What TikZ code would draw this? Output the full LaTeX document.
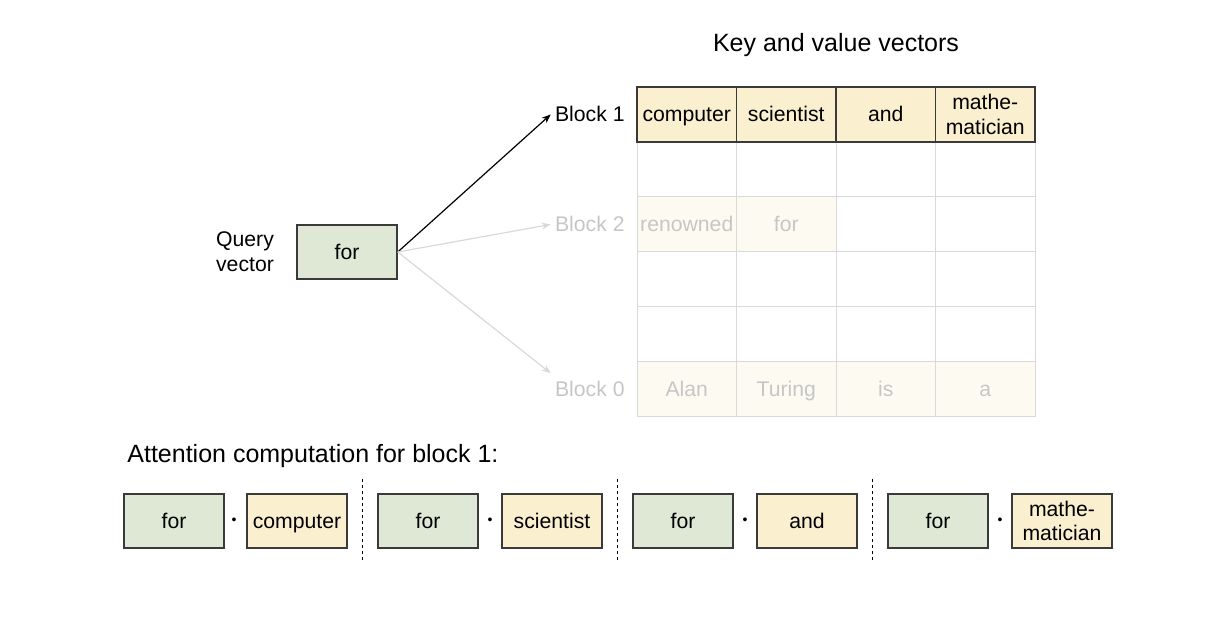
\documentclass[tikz,border=0pt]{standalone}
\usepackage{fontspec}
\setmainfont{Liberation Sans}
\usetikzlibrary{arrows.meta}

\definecolor{keyfill}{HTML}{FAEFCF}   %key/value cells, block 1
\definecolor{queryfill}{HTML}{DEE8D5} %query vector
\definecolor{fadefill}{HTML}{FDFAF2}  %cells of the other blocks
\definecolor{fadetext}{HTML}{C6C6C6}
\definecolor{gridgray}{HTML}{D9D9D9}
\definecolor{boxline}{HTML}{3A3A3A}

\begin{document}
\begin{tikzpicture}[x=0.5pt,y=0.5pt,
    every node/.style={font=\fontsize{10.6}{12.3}\selectfont},
    bigtext/.style={font=\fontsize{12.5}{15}\selectfont,inner sep=0pt},
    onebase/.style={text height=9.6pt,text depth=2.25pt},
    keytwo/.style={draw=boxline,fill=keyfill,line width=0.75pt,minimum width=49.75pt,minimum height=27.5pt,inner sep=0pt,align=center},
    keycell/.style={keytwo,onebase},
    fadecell/.style={fill=fadefill,text=fadetext,minimum width=49.75pt,minimum height=27.5pt,inner sep=0pt,onebase},
    qbox/.style={draw=boxline,fill=queryfill,line width=0.75pt,minimum width=50pt,minimum height=27pt,inner sep=0pt,onebase},
    ktwo/.style={draw=boxline,fill=keyfill,line width=0.75pt,minimum width=50pt,minimum height=27pt,inner sep=0pt,align=center},
    kbox/.style={ktwo,onebase},
    dotsym/.style={font=\fontsize{7}{7}\selectfont,inner sep=0pt},
    blocklbl/.style={anchor=east,inner sep=2pt,onebase},
    gridline/.style={draw=gridgray,line width=0.5pt},
    qarrow/.style={line width=0.6pt,-{Stealth[length=4.5pt,width=3.5pt]}},
    sepline/.style={line width=0.5pt,dash pattern=on 1.6pt off 1.4pt}]

    \useasboundingbox (0,0) rectangle (1224,624);

    % Define positions (1 unit = one pixel of the 1224x624 sheet).
    \def\cA{686.75}     %column centres of the key/value table
    \def\cB{786.25}
    \def\cC{885.75}
    \def\cD{985.25}
    \def\rowone{509.5}  %row of block 1
    \def\rowtwo{399.5}  %row of block 2
    \def\rowzero{234.5} %row of block 0
    \def\calc{103}      %row of the attention computation

    % Faded cells of blocks 2 and 0
    \node[fadecell] (r2a) at (\cA,\rowtwo) {renowned};
    \node[fadecell] (r2b) at (\cB,\rowtwo) {for};
    \node[fadecell] (r0a) at (\cA,\rowzero) {Alan};
    \node[fadecell] (r0b) at (\cB,\rowzero) {Turing};
    \node[fadecell] (r0c) at (\cC,\rowzero) {is};
    \node[fadecell] (r0d) at (\cD,\rowzero) {a};

    % Grid of the table
    \draw[gridline] (637,207) rectangle (1035,482);
    \draw[gridline] (736.5,207) -- (736.5,482);
    \draw[gridline] (836,207) -- (836,482);
    \draw[gridline] (935.5,207) -- (935.5,482);
    \draw[gridline] (637,427) -- (1035,427);
    \draw[gridline] (637,372) -- (1035,372);
    \draw[gridline] (637,317) -- (1035,317);
    \draw[gridline] (637,262) -- (1035,262);

    % Block 1 (the one attended to)
    \node[keycell] (r1a) at (\cA,\rowone) {computer};
    \node[keycell] (r1b) at (\cB,\rowone) {scientist};
    \node[keycell] (r1c) at (\cC,\rowone) {and};
    \node[keytwo] (r1d) at (\cD,\rowone) {mathe-\\matician};

    \node[bigtext] (title) at (836,579) {Key and value vectors};

    % Block labels
    \node[blocklbl] (b1) at (629,\rowone) {Block 1};
    \node[blocklbl,text=fadetext] (b2) at (629,\rowtwo) {Block 2};
    \node[blocklbl,text=fadetext] (b0) at (629,\rowzero) {Block 0};

    % Query vector and arrows
    \node[qbox] (q) at (347,372) {for};
    \node[align=center] (qlbl) at (245,372) {Query\\vector};
    \draw[qarrow] (q.east) -- (b1.west);
    \draw[qarrow,draw=gridgray,fill=gridgray] (q.east) -- (b2.west);
    \draw[qarrow,draw=gridgray,fill=gridgray] (q.east) -- (b0.north west);

    % Attention computation for block 1
    \node[bigtext,anchor=west] (att) at (127,168) {Attention computation for block 1:};

    \node[qbox] (q1) at (174,\calc) {for};
    \node[dotsym] (d1) at (234,\calc) {\textbullet};
    \node[kbox] (k1) at (297,\calc) {computer};
    \draw[sepline] (362,145) -- (362,64);

    \node[qbox] (q2) at (428,\calc) {for};
    \node[dotsym] (d2) at (490,\calc) {\textbullet};
    \node[kbox] (k2) at (552,\calc) {scientist};
    \draw[sepline] (617,145) -- (617,64);

    \node[qbox] (q3) at (683,\calc) {for};
    \node[dotsym] (d3) at (745,\calc) {\textbullet};
    \node[kbox] (k3) at (807,\calc) {and};
    \draw[sepline] (872,145) -- (872,64);

    \node[qbox] (q4) at (938,\calc) {for};
    \node[dotsym] (d4) at (1000,\calc) {\textbullet};
    \node[ktwo] (k4) at (1062,\calc) {mathe-\\matician};

\end{tikzpicture}
\end{document}
